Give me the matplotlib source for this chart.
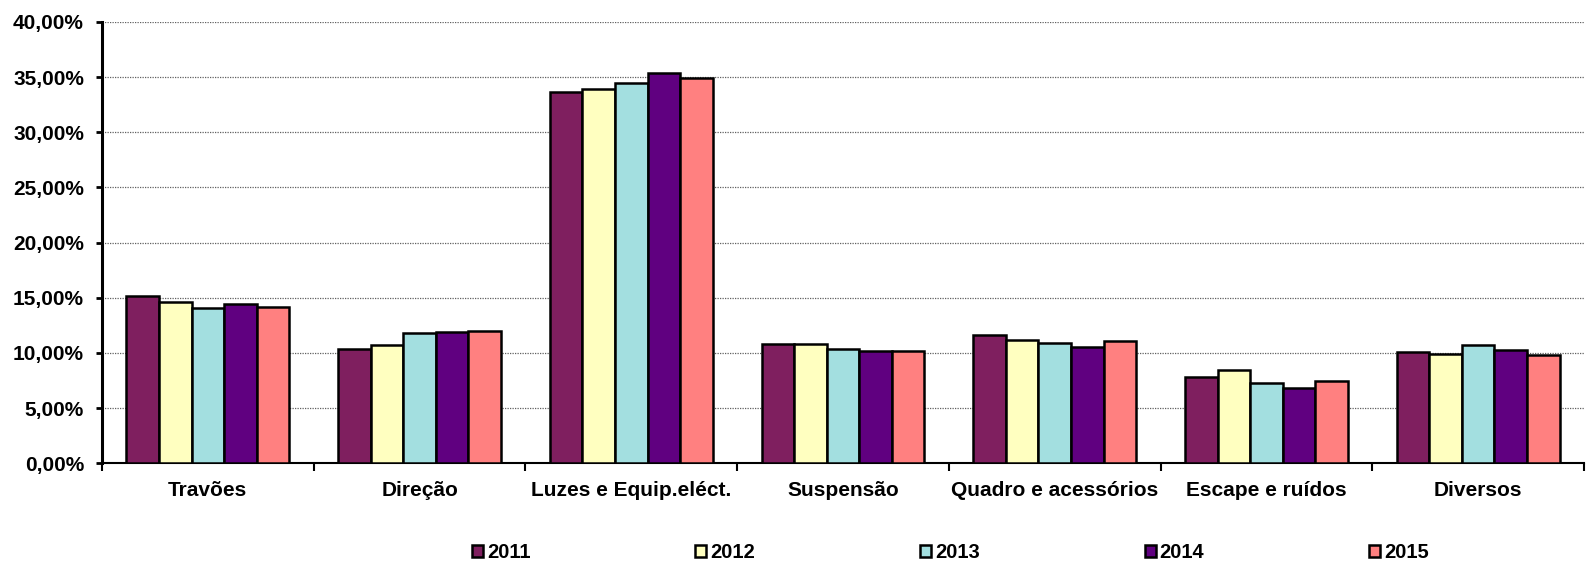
import matplotlib
matplotlib.use("Agg")
import matplotlib.pyplot as plt
import numpy as np
from matplotlib.ticker import FuncFormatter

categories = ["Travões", "Direção", "Luzes e Equip.eléct.", "Suspensão",
              "Quadro e acessórios", "Escape e ruídos", "Diversos"]
years = ["2011", "2012", "2013", "2014", "2015"]
v2011 = [15.15, 10.39, 33.63, 10.82, 11.60, 7.85, 10.12]
v2012 = [14.62, 10.75, 33.96, 10.79, 11.15, 8.43, 9.94]
v2013 = [14.10, 11.79, 34.48, 10.34, 10.88, 7.31, 10.70]
v2014 = [14.44, 11.88, 35.41, 10.15, 10.54, 6.86, 10.30]
v2015 = [14.17, 12.03, 34.96, 10.15, 11.13, 7.43, 9.85]
series = [v2011, v2012, v2013, v2014, v2015]
colors = ["#7F1F5F", "#FFFFC0", "#A3DFE0", "#600080", "#FF8080"]

plt.rcParams['font.family'] = ['Liberation Sans', 'DejaVu Sans']
fig = plt.figure(figsize=(15.87, 5.67), dpi=100)
ax = fig.add_axes([102/1587, 1-463.3/567, (1584-102)/1587, (463.3-22)/567])

n = len(series)
w = 1/6.5
x = np.arange(len(categories))
for i, (vals, c, yr) in enumerate(zip(series, colors, years)):
    off = (i - (n-1)/2) * w
    ax.bar(x + off, vals, width=w, color=c, edgecolor='black', linewidth=1.8,
           label=yr, zorder=3)

ax.set_xlim(-0.5, len(categories) - 0.5)
ax.set_ylim(0, 40)
ax.set_yticks(np.arange(0, 40.1, 5))
ax.yaxis.set_major_formatter(FuncFormatter(lambda v, p: f"{v:.2f}".replace('.', ',') + "%"))
ax.grid(axis='y', color='#606060', linestyle=(0, (1, 1)), linewidth=0.9, zorder=0)
ax.set_axisbelow(True)

ax.set_xticks(np.arange(-0.5, len(categories) + 0.5, 1))
ax.set_xticklabels([])
ax.set_xticks(x, minor=True)
ax.set_xticklabels(categories, minor=True, fontsize=15, fontweight='bold')
ax.tick_params(axis='x', which='minor', length=0, pad=13)
ax.tick_params(axis='x', which='major', length=6, width=1.5, direction='out')
ax.tick_params(axis='y', length=4, width=2, direction='out', labelsize=15, pad=9)
for lab in ax.get_yticklabels():
    lab.set_fontweight('bold')

for s in ['top', 'right']:
    ax.spines[s].set_visible(False)
ax.spines['left'].set_linewidth(2.2)
ax.spines['bottom'].set_linewidth(1.5)

leg = fig.legend(loc='center', bbox_to_anchor=(464/1587, 1-565/567, (1437-464)/1587, 24/567),
                 ncol=5, mode='expand', frameon=False, handlelength=0.55, handleheight=0.55,
                 handletextpad=0.2, prop={'weight': 'bold', 'size': 14.5}, borderaxespad=0)
for h in leg.legend_handles:
    h.set_linewidth(1.8)

fig.savefig("out.png", dpi=100)
